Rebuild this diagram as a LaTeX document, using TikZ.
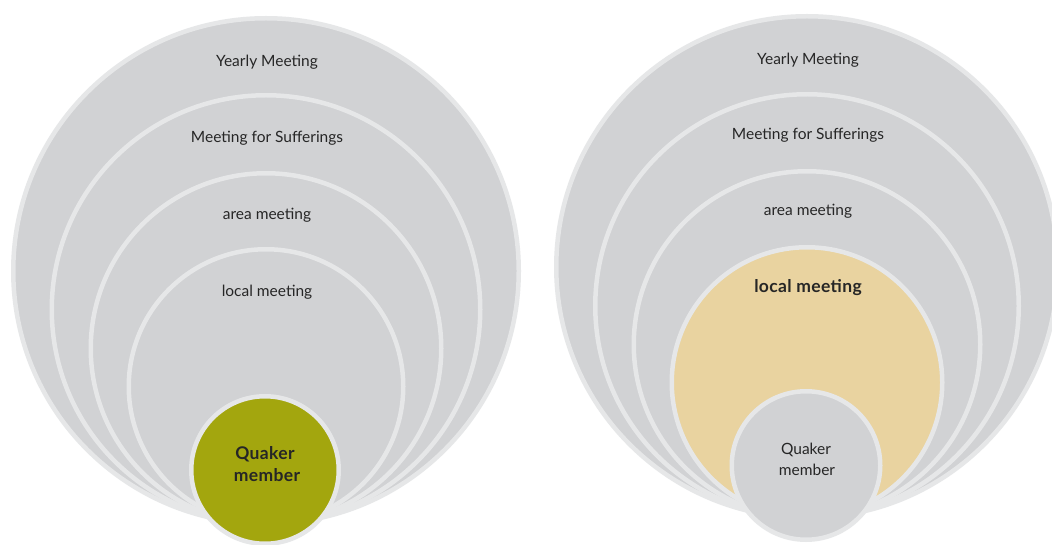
\documentclass[tikz,border=0pt]{standalone}
\usepackage{fontspec}
\setmainfont{Lato}
\definecolor{ringfill}{HTML}{D1D2D4}
\definecolor{ringline}{HTML}{E6E7E8}
\definecolor{olive}{HTML}{A3A60E}
\definecolor{tan}{HTML}{E9D3A0}
\definecolor{txt}{HTML}{262626}
\tikzset{
  ring/.style={fill=ringfill, draw=ringline, line width=4.5pt},
  lbl/.style={anchor=base, text=txt, font=\fontsize{15.5}{18}\selectfont, inner sep=0pt},
  blbl/.style={lbl, font=\fontsize{17.5}{20}\selectfont\bfseries\addfontfeatures{LetterSpace=2}},
}
\begin{document}
\begin{tikzpicture}[x=1pt,y=1pt]
\useasboundingbox (0,0) rectangle (1052,544);
\clip (0,0) rectangle (1052,544);
\fill[white] (0,0) rectangle (1052,544);
% left diagram
\draw[ring] (266,273) circle (252.75);
\draw[ring] (266,234.5) circle (214.25);
\draw[ring] (266,195.5) circle (175.25);
\draw[ring] (266,157.5) circle (137.25);
\draw[ring, fill=olive] (265,74) circle (73.75);
\node[lbl] (ly) at (267,477.5) {Yearly Meeting};
\node[lbl] (lm) at (267,401) {Meeting for Sufferings};
\node[lbl] (la) at (267,324) {area meeting};
\node[lbl] (ll) at (267,247) {local meeting};
\node[blbl] (lq1) at (265,85) {Quaker};
\node[blbl] (lq2) at (267,63) {member};
% right diagram
\draw[ring] (807,277) circle (250.75);
\draw[ring] (807,238) circle (211.75);
\draw[ring] (807,199.5) circle (173.25);
\draw[ring, fill=tan] (807,161.5) circle (135.25);
\draw[ring] (806,78.5) circle (74.25);
\node[lbl] (ry) at (808,479) {Yearly Meeting};
\node[lbl] (rm) at (808,404) {Meeting for Sufferings};
\node[lbl] (ra) at (808,328) {area meeting};
\node[blbl] (rl) at (808,251) {local meeting};
\node[lbl] (rq1) at (806,90) {Quaker};
\node[lbl] (rq2) at (807,69) {member};
\end{tikzpicture}
\end{document}
